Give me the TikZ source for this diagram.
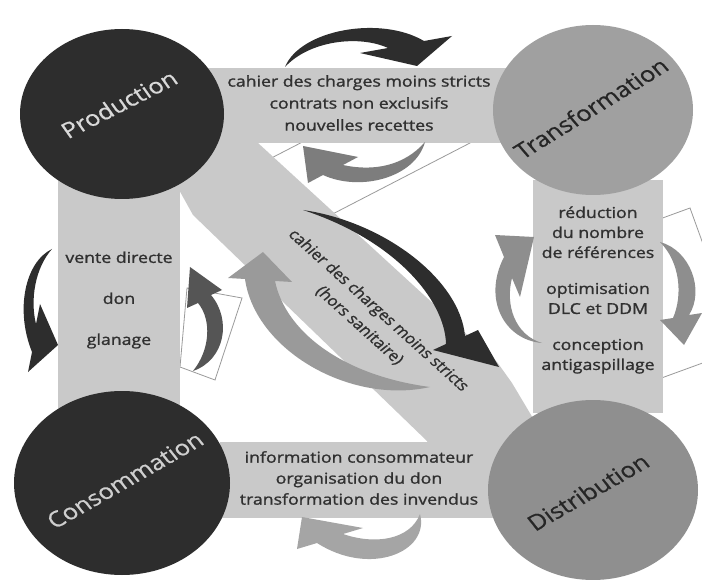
\documentclass[tikz,border=0pt]{standalone}
\usepackage{fontspec}
\setmainfont{Open Sans}
\newfontfamily\bandfont{Open Sans}[FakeBold=1.2]
\newfontfamily\discfont{Open Sans}[FakeBold=0.6]
\usetikzlibrary{shapes.geometric}
\definecolor{dk}{HTML}{2D2D2D}
\definecolor{trc}{HTML}{A0A0A0}
\definecolor{dic}{HTML}{8F8F8F}
\definecolor{bandc}{HTML}{C9C9C9}
\definecolor{txt}{HTML}{303030}
\definecolor{outc}{HTML}{9A9A9A}
\tikzset{
  band/.style={fill=bandc, draw=none},
  outlinebox/.style={fill=white, draw=outc, line width=0.8pt},
  disc/.style={ellipse, draw=none, inner sep=0pt},
  bandtext/.style={text=txt, align=center, font=\bandfont\fontsize{15}{22}\selectfont, inner sep=0pt, xscale=1.18},
  disclabel/.style={font=\discfont\fontsize{21.5}{26}\selectfont, inner sep=0pt, xscale=1.18},
}
\begin{document}
\begin{tikzpicture}[x=1pt,y=-1pt]
\useasboundingbox[fill=white] (0,0) rectangle (702,580);

% outlined boxes behind arrows
\draw[outlinebox] (470,143) -- (292,235) -- (256,166) -- (434,74) -- cycle;
\draw[outlinebox] (690,208) -- (741,349) -- (656,380) -- (605,239) -- cycle;
\draw[outlinebox] (187,288) -- (180,367) -- (215,380) -- (242,298) -- cycle;

% bands
\node[band, minimum width=340pt, minimum height=75pt, inner sep=0pt] (topband) at (370,105.5) {};
\node[band, minimum width=122pt, minimum height=240pt, inner sep=0pt] (leftband) at (119,300) {};
\node[band, minimum width=130pt, minimum height=233pt, inner sep=0pt] (rightband) at (598,296.5) {};
\node[band, minimum width=280pt, minimum height=76pt, inner sep=0pt] (bottomband) at (360,480) {};
\fill[bandc] (170,150) -- (225,120) -- (258,143) -- (497,362) -- (512,383) -- (540,430)
  -- (500,460) -- (430,450) -- (427,441) -- (193,215) -- (178,188) -- cycle;

% circles
\node[disc, fill=dk, minimum width=204pt, minimum height=170pt] (prod) at (122,114) {};
\node[disc, fill=trc, minimum width=200pt, minimum height=170pt] (trans) at (593,110) {};
\node[disc, fill=dk, minimum width=216pt, minimum height=184pt] (cons) at (122,483) {};
\node[disc, fill=dic, minimum width=210pt, minimum height=180pt] (dist) at (593,490) {};

% curved arrows
\fill[color=dk] (285,67) .. controls (300,30) and (380,15) .. (424,41) -- (452,36) -- (417,66) -- (360,53) -- (388,48) .. controls (360,35) and (310,40) .. (285,67) -- cycle;
\fill[color={rgb,255:red,125;green,125;blue,125}] (425,142) .. controls (415,178) and (360,192) .. (323,175) -- (308,183) -- (303,146) -- (358,157) -- (343,165) .. controls (375,172) and (405,165) .. (425,142) -- cycle;
\fill[color=dk] (52,249) .. controls (25,262) and (15,310) .. (32,352) -- (28,372) -- (58,345) -- (40,304) -- (36,324) .. controls (30,300) and (35,268) .. (52,249) -- cycle;
\fill[color={rgb,255:red,85;green,85;blue,85}] (193,371) .. controls (225,360) and (232,320) .. (211,295) -- (222,290) -- (190,267) -- (187,308) -- (198,303) .. controls (212,320) and (210,350) .. (193,371) -- cycle;
\fill[color=dk] (303,210) .. controls (385,222) and (460,280) .. (465,336) -- (478,330) -- (499,367) -- (433,350) -- (446,344) .. controls (445,300) and (395,240) .. (303,210) -- cycle;
\fill[color={rgb,255:red,154;green,154;blue,154}] (430,387) .. controls (350,405) and (255,350) .. (245,279) -- (228,278) -- (263,252) -- (292,282) -- (275,281) .. controls (285,330) and (340,375) .. (430,387) -- cycle;
\fill[color={rgb,255:red,142;green,142;blue,142}] (542,343) .. controls (505,340) and (482,300) .. (504,257) -- (495,235) -- (534,237) -- (520,297) -- (512,278) .. controls (505,305) and (515,335) .. (542,343) -- cycle;
\fill[color={rgb,255:red,142;green,142;blue,142}] (660,242) .. controls (690,250) and (705,290) .. (689,315) -- (702,313) -- (684,345) -- (660,320) -- (673,318) .. controls (683,295) and (680,262) .. (660,242) -- cycle;
\fill[color={rgb,255:red,165;green,165;blue,165}] (420,514) .. controls (430,552) and (370,577) .. (317,543) -- (297,549) -- (302,517) -- (363,528) -- (343,534) .. controls (375,545) and (410,540) .. (420,514) -- cycle;

% circle labels
\node[disclabel, text={rgb,255:red,217;green,217;blue,217}, rotate=31] (lprod) at (119,104) {Production};
\node[disclabel, text={rgb,255:red,37;green,37;blue,37}, rotate=36] (ltrans) at (591,108) {Transformation};
\node[disclabel, text={rgb,255:red,207;green,207;blue,207}, rotate=34] (lcons) at (125,480) {Consommation};
\node[disclabel, text={rgb,255:red,38;green,38;blue,38}, rotate=34] (ldist) at (588,492) {Distribution};

% band texts
\node[bandtext] (ttop) at (359,103) {cahier des charges moins stricts\\contrats non exclusifs\\nouvelles recettes};
\node[bandtext] (tleft) at (119,300) {vente directe\\[19pt]don\\[19pt]glanage};
\node[bandtext, font=\bandfont\fontsize{15}{20}\selectfont] (tright) at (598,290) {réduction\\du nombre\\de références\\[16pt]optimisation\\DLC et DDM\\[16pt]conception\\antigaspillage};
\node[bandtext, font=\bandfont\fontsize{15}{21}\selectfont] (tbottom) at (359,478) {information consommateur\\organisation du don\\transformation des invendus};
\node[bandtext, font=\bandfont\fontsize{14.5}{22}\selectfont, rotate=-46.7] (tdiag) at (369,318) {cahier des charges moins stricts\\(hors sanitaire)};
\end{tikzpicture}
\end{document}
